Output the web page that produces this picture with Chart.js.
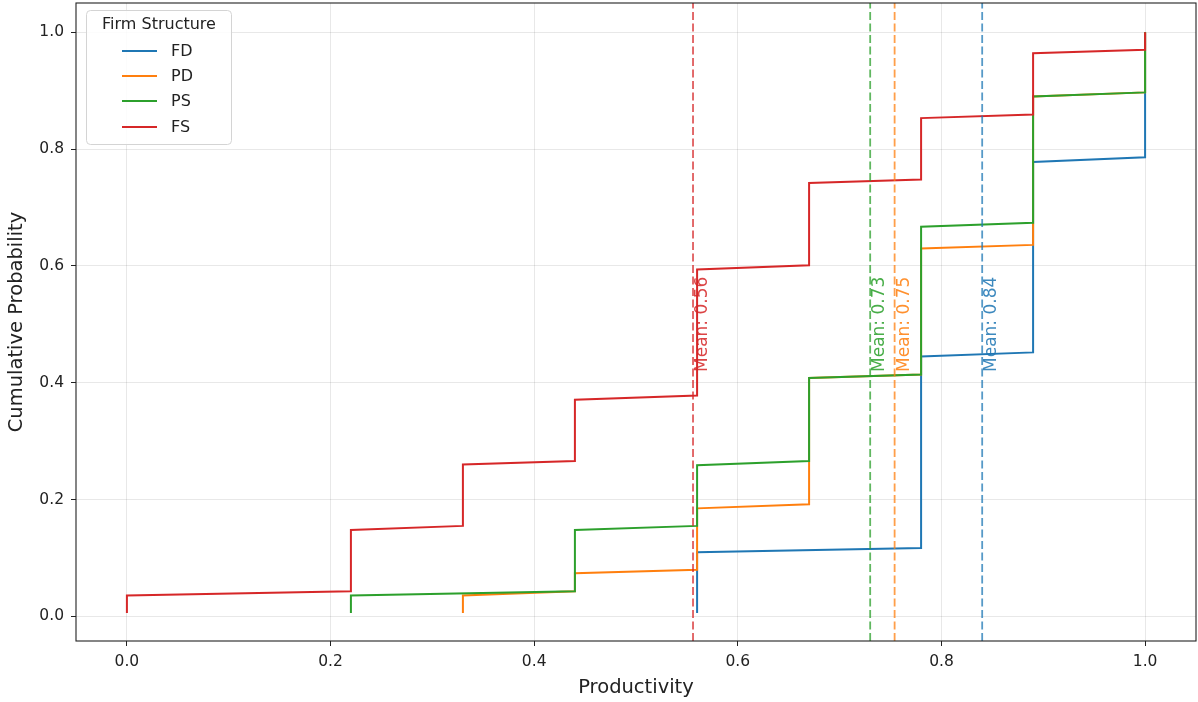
<!DOCTYPE html>
<html>
<head>
<meta charset="utf-8">
<title>Firm Structure ECDF</title>
<script src="https://cdn.jsdelivr.net/npm/chart.js@4"></script>
<style>
  html, body { margin: 0; padding: 0; background: #fff; }
  #wrap { width: 1198px; height: 702px; }
</style>
</head>
<body>
<div id="wrap"><canvas id="ecdf" width="1198" height="702"></canvas></div>
<script>
// productivity levels where each series steps up, and the cumulative value
// just before the riser (lo) and at its top (hi)
var fdX  = [0.56, 0.78, 0.89, 1.0];
var fdLo = [0.006, 0.117, 0.452, 0.786];
var fdHi = [0.110, 0.445, 0.778, 1.0];

var pdX  = [0.33, 0.44, 0.56, 0.67, 0.78, 0.89, 1.0];
var pdLo = [0.006, 0.043, 0.080, 0.192, 0.414, 0.636, 0.897];
var pdHi = [0.036, 0.074, 0.185, 0.408, 0.630, 0.890, 1.0];

var psX  = [0.22, 0.44, 0.56, 0.67, 0.78, 0.89, 1.0];
var psLo = [0.006, 0.043, 0.155, 0.266, 0.414, 0.674, 0.897];
var psHi = [0.036, 0.148, 0.259, 0.408, 0.667, 0.890, 1.0];

var fsX  = [0, 0.22, 0.33, 0.44, 0.56, 0.67, 0.78, 0.89, 1.0];
var fsLo = [0.006, 0.043, 0.155, 0.266, 0.378, 0.601, 0.748, 0.859, 0.970];
var fsHi = [0.036, 0.148, 0.260, 0.371, 0.594, 0.742, 0.853, 0.964, 1.0];

var groups = ["FD", "PD", "PS", "FS"];
var means  = [0.84, 0.754, 0.73, 0.556];
var colors = ["#1f77b4", "#ff7f0e", "#2ca02c", "#d62728"];

var xTicks = [0, 0.2, 0.4, 0.6, 0.8, 1.0];
var yTicks = [0, 0.2, 0.4, 0.6, 0.8, 1.0];
var xRange = [-0.05, 1.05];
var yRange = [-0.042, 1.05];

var FONT = "'DejaVu Sans', sans-serif";

function stepPoints(xs, lo, hi) {
  var pts = [];
  for (var i = 0; i < xs.length; i++) {
    pts.push({x: xs[i], y: lo[i]});
    pts.push({x: xs[i], y: hi[i]});
  }
  return pts;
}

var series = [[fdX, fdLo, fdHi], [pdX, pdLo, pdHi], [psX, psLo, psHi], [fsX, fsLo, fsHi]];
var datasets = [];
for (var i = 0; i < groups.length; i++) {
  datasets.push({
    label: groups[i],
    data: stepPoints(series[i][0], series[i][1], series[i][2]),
    borderColor: colors[i],
    borderWidth: 2,
    showLine: true,
    pointRadius: 0,
    tension: 0,
    order: 10 - i
  });
}
// mean lines, spanning the full height
for (var j = 0; j < groups.length; j++) {
  datasets.push({
    label: "mean " + groups[j],
    data: [{x: means[j], y: yRange[0]}, {x: means[j], y: yRange[1]}],
    borderColor: colors[j] + "c0",
    borderWidth: 1.8,
    borderDash: [8, 3.5],
    showLine: true,
    pointRadius: 0,
    order: 1
  });
}

var frameAndText = {
  id: "frameAndText",
  afterDraw: function(chart) {
    var ctx = chart.ctx, a = chart.chartArea;
    var xs = chart.scales.x, ys = chart.scales.y;
    ctx.save();
    // spines
    ctx.strokeStyle = "#222";
    ctx.lineWidth = 1.1;
    ctx.strokeRect(a.left, a.top, a.right - a.left, a.bottom - a.top);

    // mean labels
    ctx.font = "17px " + FONT;
    ctx.textAlign = "center";
    ctx.textBaseline = "top";
    for (var k = 0; k < means.length; k++) {
      ctx.save();
      ctx.translate(xs.getPixelForValue(means[k]) + 1, ys.getPixelForValue(0.5));
      ctx.rotate(-Math.PI / 2);
      ctx.fillStyle = colors[k] + "dd";
      ctx.fillText("Mean: " + means[k].toFixed(2), 0, 0);
      ctx.restore();
    }

    // legend
    var lx = 86.5, ly = 10.5, lw = 145, lh = 134;
    ctx.beginPath();
    ctx.roundRect(lx, ly, lw, lh, 4);
    ctx.fillStyle = "rgba(255,255,255,0.85)";
    ctx.fill();
    ctx.strokeStyle = "#d4d4d4";
    ctx.lineWidth = 1;
    ctx.stroke();
    ctx.fillStyle = "#222";
    ctx.font = "16px " + FONT;
    ctx.textAlign = "center";
    ctx.textBaseline = "middle";
    ctx.fillText("Firm Structure", lx + lw / 2, 25);
    ctx.textAlign = "left";
    var rows = [51, 76, 101, 127];
    for (var r = 0; r < groups.length; r++) {
      ctx.strokeStyle = colors[r];
      ctx.lineWidth = 2;
      ctx.beginPath();
      ctx.moveTo(122, rows[r]);
      ctx.lineTo(157, rows[r]);
      ctx.stroke();
      ctx.fillStyle = "#222";
      ctx.fillText(groups[r], 171, rows[r] + 1);
    }
    ctx.restore();
  }
};

new Chart(document.getElementById("ecdf"), {
  type: "scatter",
  data: { datasets: datasets },
  options: {
    responsive: false,
    animation: false,
    layout: { padding: { left: 0, top: 3, right: 2, bottom: 0 } },
    plugins: { legend: { display: false }, tooltip: { enabled: false } },
    scales: {
      x: {
        type: "linear",
        min: xRange[0], max: xRange[1],
        afterBuildTicks: function(s) { s.ticks = xTicks.map(function(v) { return {value: v}; }); },
        afterFit: function(s) { s.height = 61; s.paddingLeft = 0; s.paddingRight = 0; },
        grid: { color: "rgba(0,0,0,0.09)", tickColor: "#222", tickLength: 5, lineWidth: 1 },
        border: { display: false },
        ticks: {
          padding: 7, color: "#222", font: { family: FONT, size: 15.5 },
          callback: function(v) { return v.toFixed(1); }
        },
        title: { display: true, text: "Productivity", color: "#222", padding: { top: 0, bottom: 2 }, font: { family: FONT, size: 19.5 } }
      },
      y: {
        type: "linear",
        min: yRange[0], max: yRange[1],
        afterBuildTicks: function(s) { s.ticks = yTicks.map(function(v) { return {value: v}; }); },
        afterFit: function(s) { s.width = 76; s.paddingTop = 0; s.paddingBottom = 0; },
        grid: { color: "rgba(0,0,0,0.09)", tickColor: "#222", tickLength: 5, lineWidth: 1 },
        border: { display: false },
        ticks: {
          padding: 7, color: "#222", font: { family: FONT, size: 15.5 },
          callback: function(v) { return v.toFixed(1); }
        },
        title: { display: true, text: "Cumulative Probability", color: "#222", padding: { top: 5, bottom: 0 }, font: { family: FONT, size: 19.5 } }
      }
    }
  },
  plugins: [frameAndText]
});
</script>
</body>
</html>
